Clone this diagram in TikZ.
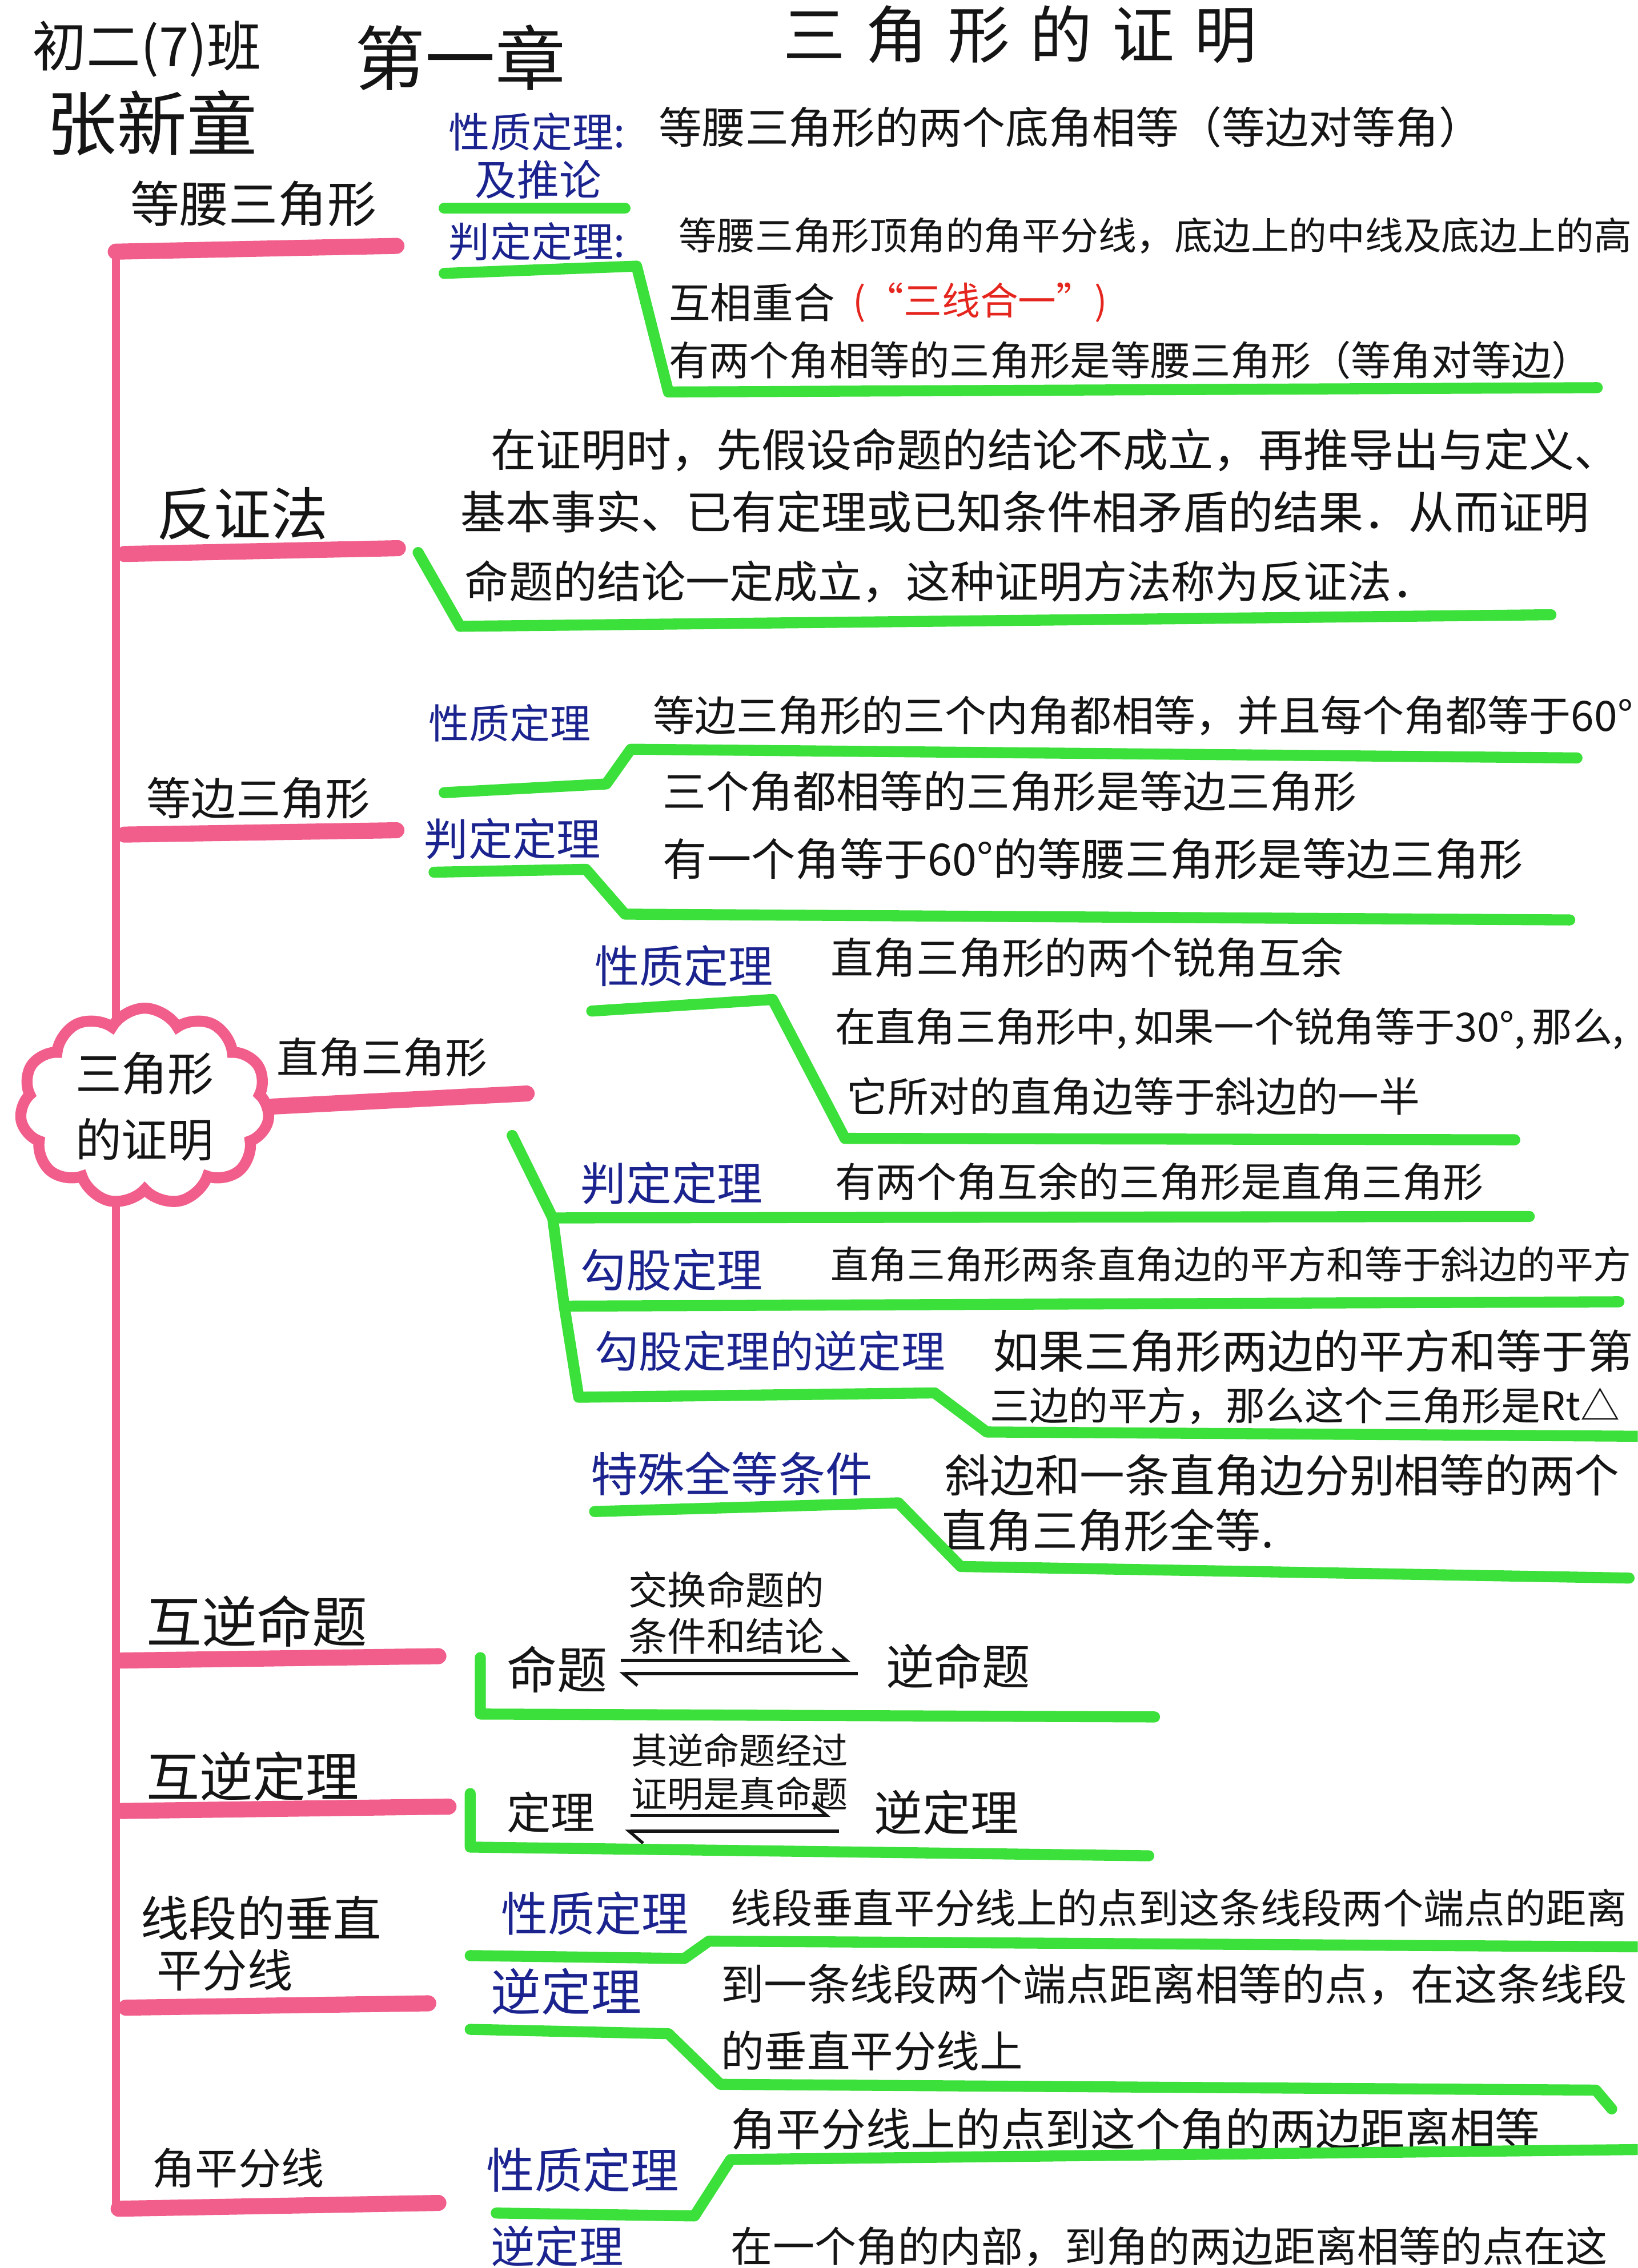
\documentclass[tikz,border=0pt]{standalone}
\usepackage{fontspec}
\setmainfont{Noto Sans CJK SC}
\usetikzlibrary{positioning, shapes.symbols, arrows.meta}
\definecolor{mpink}{HTML}{F25E8C}
\definecolor{mgreen}{HTML}{3BE03A}
\definecolor{inkblue}{HTML}{1B238F}
\definecolor{inkred}{HTML}{E5261F}
\definecolor{ink}{HTML}{151515}
\newcommand{\msize}[1]{\fontsize{#1pt}{#1pt}\selectfont}

\begin{document}
\begin{tikzpicture}[
  x=0.2534mm, y=-0.2534mm,
  txt/.style={anchor=west, inner sep=0pt, text=ink},
  lbl/.style={anchor=west, inner sep=0pt, text=inkblue},
  topic/.style={anchor=west, inner sep=0pt, text=ink},
  trunk/.style={draw=mpink, line width=4pt},
  pbar/.style={draw=mpink, line width=8pt, line cap=round},
  gbar/.style={draw=mgreen, line width=5.5pt, line cap=round, line join=round},
  harp/.style={draw=ink, line width=1.5pt, -{Straight Barb[harpoon, length=7pt, width=12pt]}}
]
\useasboundingbox (0,0) rectangle (1132,1568);
\clip (0,0) rectangle (1132,1568);
\fill[white] (0,0) rectangle (1132,1568);

% ---- Header ----
\node[topic, font=\msize{27}] (cls) at (22,34) {初二(7)班};
\node[topic, font=\msize{35}] (chap) at (245,40) {第一章};
\node[topic, font=\msize{35}] (who) at (32,85) {张新童};
\node[font=\msize{31}, inner sep=0pt, text=ink] (title) at (705,24)
  {三\hspace{10pt}角\hspace{10pt}形\hspace{10pt}的\hspace{10pt}证\hspace{10pt}明};

% ---- Trunk ----
\draw[trunk] (80,174) -- (80,1526);

% ---- 等腰三角形 ----
\node[topic, font=\msize{24.5}] (dy) at (90,141) {等腰三角形};
\draw[pbar] (80,174) -- (274,170);
\node[lbl, font=\msize{20.5}] (dyxz) at (310,91) {性质定理:};
\node[lbl, font=\msize{21}] (dytl) at (328,124) {及推论};
\node[txt, font=\msize{21.6}] (dy1) at (455,88) {等腰三角形的两个底角相等（等边对等角）};
\draw[gbar] (307,144) -- (432,144);
\node[lbl, font=\msize{20.5}] (dypd) at (310,167) {判定定理:};
\node[txt, font=\msize{19}] (dy2) at (469,163) {等腰三角形顶角的角平分线，底边上的中线及底边上的高};
\node[txt, font=\msize{20.7}] (dy3) at (462,209) {互相重合};
\node[txt, font=\msize{19}, text=inkred, right=3mm of dy3] (dy3r) {(“三线合一”)};
\node[txt, font=\msize{20}] (dy4) at (462,249) {有两个角相等的三角形是等腰三角形（等角对等边）};
\draw[gbar] (307,189) -- (440,184) -- (462,271) -- (1104,268);

% ---- 反证法 ----
\node[topic, font=\msize{28.5}] (fz) at (108,355) {反证法};
\draw[pbar] (86,383) -- (275,379);
\node[txt, font=\msize{22.5}] (fz1) at (339,311) {在证明时，先假设命题的结论不成立，再推导出与定义、};
\node[txt, font=\msize{22.5}] (fz2) at (318,354) {基本事实、已有定理或已知条件相矛盾的结果．从而证明};
\node[txt, font=\msize{22}] (fz3) at (321,402) {命题的结论一定成立，这种证明方法称为反证法．};
\draw[gbar] (289,382) -- (318,433) -- (1072,425);

% ---- 等边三角形 ----
\node[topic, font=\msize{22.3}] (db) at (101,552) {等边三角形};
\draw[pbar] (86,577) -- (274,574);
\node[lbl, font=\msize{20.2}] (dbxz) at (296,500) {性质定理};
\node[txt, font=\msize{20.8}] (db1) at (451,495) {等边三角形的三个内角都相等，并且每个角都等于60°};
\draw[gbar] (307,548) -- (419,542) -- (436,518) -- (1090,524);
\node[lbl, font=\msize{22}] (dbpd) at (293,580) {判定定理};
\node[txt, font=\msize{21.6}] (db2) at (458,547) {三个角都相等的三角形是等边三角形};
\node[txt, font=\msize{22}] (db3) at (458,594) {有一个角等于60°的等腰三角形是等边三角形};
\draw[gbar] (300,603) -- (405,601) -- (432,632) -- (1085,636);

% ---- Root ----
\node[cloud, cloud puffs=11, cloud puff arc=120, aspect=1.4, draw=mpink,
      line width=5.5pt, fill=white, inner sep=2pt, minimum width=40mm,
      minimum height=27mm, align=center, text=ink,
      font=\fontsize{23pt}{33pt}\selectfont] (root) at (100,765) {三角形\\的证明};

% ---- 直角三角形 ----
\node[topic, font=\msize{21}] (zj) at (191,731) {直角三角形};
\draw[pbar] (root.east) -- (364,756);
\node[lbl, font=\msize{22.2}] (zjxz) at (411,668) {性质定理};
\node[txt, font=\msize{21.3}] (zj1) at (574,662) {直角三角形的两个锐角互余};
\node[txt, font=\msize{20}] (zj2) at (577,711) {在直角三角形中,\,如果一个锐角等于30°,\,那么,};
\node[txt, font=\msize{20.4}] (zj3) at (585,758) {它所对的直角边等于斜边的一半};
\draw[gbar] (409,699) -- (534,691) -- (584,787) -- (1047,788);
\draw[gbar] (354,785) -- (382,842) -- (1057,841);
\draw[gbar] (382,842) -- (390,903) -- (1119,900);
\draw[gbar] (390,903) -- (400,966) -- (646,963) -- (682,990) -- (1140,993);
\node[lbl, font=\msize{22.7}] (zjpd) at (401,818) {判定定理};
\node[txt, font=\msize{20.2}] (zj4) at (577,817) {有两个角互余的三角形是直角三角形};
\node[lbl, font=\msize{22.7}] (zjgg) at (401,878) {勾股定理};
\node[txt, font=\msize{19}] (zj5) at (574,874) {直角三角形两条直角边的平方和等于斜边的平方};
\node[lbl, font=\msize{21.8}] (zjnd) at (411,934) {勾股定理的逆定理};
\node[txt, font=\msize{22.8}] (zj6) at (686,934) {如果三角形两边的平方和等于第};
\node[txt, font=\msize{19.6}] (zj7) at (684,972) {三边的平方，那么这个三角形是Rt△};
\node[lbl, font=\msize{23.4}] (zjts) at (408,1019) {特殊全等条件};
\node[txt, font=\msize{22.4}] (zj8) at (653,1020) {斜边和一条直角边分别相等的两个};
\node[txt, font=\msize{22.8}] (zj9) at (650,1058) {直角三角形全等.};
\draw[gbar] (411,1045) -- (621,1039) -- (664,1083) -- (1126,1091);

% ---- 互逆命题 ----
\node[topic, font=\msize{27.5}] (hn) at (101,1121) {互逆命题};
\draw[pbar] (84,1148) -- (303,1145);
\node[txt, font=\msize{25}] (mt) at (350,1154) {命题};
\node[txt, font=\msize{19.5}] (hnc1) at (434,1099) {交换命题的};
\node[txt, font=\msize{19.5}] (hnc2) at (434,1131) {条件和结论};
\node[txt, font=\msize{24}] (nmt) at (612,1152) {逆命题};
\coordinate (hn1) at (429,1148);
\coordinate (hn2) at (588,1148);
\coordinate (hn3) at (428,1157);
\coordinate (hn4) at (593,1157);
\draw[harp] (hn1) -- (hn2);
\draw[harp] (hn4) -- (hn3);
\draw[gbar] (332,1146) -- (332,1185) -- (798,1187);

% ---- 互逆定理 ----
\node[topic, font=\msize{26.5}] (hd) at (101,1228) {互逆定理};
\draw[pbar] (84,1252) -- (310,1249);
\node[txt, font=\msize{22}] (dl) at (350,1253) {定理};
\node[txt, font=\msize{18}] (hdc1) at (436,1210) {其逆命题经过};
\node[txt, font=\msize{18}] (hdc2) at (436,1240) {证明是真命题};
\node[txt, font=\msize{24}] (ndl) at (604,1253) {逆定理};
\coordinate (hd1) at (436,1255);
\coordinate (hd2) at (574,1255);
\coordinate (hd3) at (432,1266);
\coordinate (hd4) at (580,1266);
\draw[harp] (hd1) -- (hd2);
\draw[harp] (hd4) -- (hd3);
\draw[gbar] (325,1240) -- (325,1277) -- (794,1283);

% ---- 线段的垂直平分线 ----
\node[topic, font=\msize{24}] (xd) at (97,1326) {线段的垂直};
\node[topic, font=\msize{22.6}] (xd2) at (108,1362) {平分线};
\draw[pbar] (87,1388) -- (296,1385);
\node[lbl, font=\msize{23.4}] (xdxz) at (346,1323) {性质定理};
\node[txt, font=\msize{20.3}] (xd1) at (505,1319) {线段垂直平分线上的点到这条线段两个端点的距离};
\draw[gbar] (325,1352) -- (473,1354) -- (490,1342) -- (1140,1346);
\node[lbl, font=\msize{25}] (xdnd) at (339,1377) {逆定理};
\node[txt, font=\msize{21.5}] (xd3) at (498,1372) {到一条线段两个端点距离相等的点，在这条线段};
\node[txt, font=\msize{21.5}] (xd4) at (498,1418) {的垂直平分线上};
\draw[gbar] (325,1403) -- (462,1406) -- (498,1441) -- (1103,1445) -- (1114,1458);

% ---- 角平分线 ----
\node[topic, font=\msize{21.4}] (jp) at (105,1499) {角平分线};
\draw[pbar] (82,1527) -- (303,1523);
\node[lbl, font=\msize{24}] (jpxz) at (336,1500) {性质定理};
\node[txt, font=\msize{22.4}] (jp1) at (505,1472) {角平分线上的点到这个角的两边距离相等};
\draw[gbar] (343,1530) -- (480,1532) -- (505,1493) -- (1140,1486);
\node[lbl, font=\msize{22}] (jpnd) at (339,1553) {逆定理};
\node[txt, font=\msize{20.8}] (jp2) at (505,1553) {在一个角的内部，到角的两边距离相等的点在这};

\end{tikzpicture}
\end{document}
